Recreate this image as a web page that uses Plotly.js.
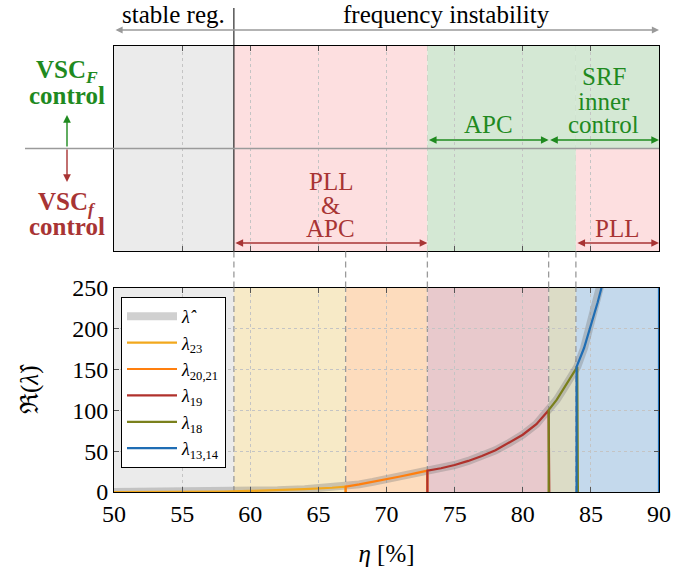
<!DOCTYPE html>
<html><head><meta charset="utf-8">
<script src="https://cdn.plot.ly/plotly-3.0.1.min.js"></script>
<style>
html,body{margin:0;padding:0;background:#fff}
#chart text { font-family: 'Liberation Serif', serif !important; }
</style>
</head><body><div id="chart" style="width:697px;height:572px"></div>
<script>
// ---------------- data ----------------
const etaBounds = [50, 58.8, 67, 73, 81.9, 83.9, 90];
const xTicks = [50, 55, 60, 65, 70, 75, 80, 85, 90];
const yTicks = [0, 50, 100, 150, 200, 250];

const hatEta = [50, 52, 55, 58, 60, 62, 64, 66, 67, 68, 69, 70, 71, 72, 73, 74, 75, 76, 77, 78, 79, 80, 81, 81.9, 82.5, 83, 83.5, 84, 84.5, 85, 85.5, 85.8, 86.2];
const hatVal = [0, 0.1, 0.3, 0.7, 1.3, 2.2, 3.5, 5.2, 6.5, 9.3, 12.3, 15.5, 19, 22.5, 26, 29, 33, 38, 44, 51, 60, 70, 83, 100, 113, 126, 139, 153, 176, 203, 232, 251, 285];

const l23Eta = [50, 55, 58, 60, 62, 64, 66, 67, 67];
const l23Val = [0, 0.1, 0.5, 1.3, 2.2, 3.5, 5.2, 6.5, -5];

const l2021Eta = [67, 67, 68, 69, 70, 71, 72, 73, 73];
const l2021Val = [-5, 6.5, 9.3, 12.3, 15.5, 19, 22.5, 26, -5];

const l19Eta = [73, 73, 74, 75, 76, 77, 78, 79, 80, 81, 81.9, 81.95];
const l19Val = [-5, 26, 29, 33, 38, 44, 51, 60, 70, 83, 100, -5];

const l18Eta = [81.9, 81.9, 82.5, 83, 83.5, 84, 84.05];
const l18Val = [-5, 100, 113, 126, 139, 153, -5];

const l1314Eta = [83.95, 83.95, 84.5, 85, 85.5, 85.8, 86.2, 90, 90];
const l1314Val = [-5, 153, 176, 203, 232, 251, 285, 1200, -5];

const seriesNames = ['<i>λ̂</i>', '<i>λ</i><sub>23</sub>', '<i>λ</i><sub>20,21</sub>', '<i>λ</i><sub>19</sub>', '<i>λ</i><sub>18</sub>', '<i>λ</i><sub>13,14</sub>'];

// ---------------- style ----------------
const FONT = 'Liberation Serif';
const GREEN = '#1f8a1f';
const RED = '#a83434';
const GRAYLINE = '#9a9a9a';
const lineColors = ['rgba(120,120,120,0.35)', '#f2a81d', '#ff7f0e', '#b0312c', '#7a801c', '#1f6db4'];
const lineWidths = [8, 2.2, 2.2, 2.2, 2.2, 2.2];

const H = 572, T = 46, B = 80;
const PH = H - T - B;
const py = px => (H - B - px) / PH;              // pixel row -> paper y
const topLo = py(251), botHi = py(287.5);
const y2 = px => 1 - 2 * (px - 46) / 205;        // pixel row -> top-panel y

const xs = [hatEta, l23Eta, l2021Eta, l19Eta, l18Eta, l1314Eta];
const ys = [hatVal, l23Val, l2021Val, l19Val, l18Val, l1314Val];
const traces = xs.map((x, i) => ({
  x: x, y: ys[i], type: 'scatter', mode: 'lines', name: seriesNames[i],
  xaxis: 'x', yaxis: 'y', line: {color: lineColors[i], width: lineWidths[i]},
  hoverinfo: 'skip'
}));

const b = etaBounds;
const shapes = [];
const topFills = [
  [b[0], b[1], -1, 1, '#ebebeb'],
  [b[1], b[3], -1, 1, '#fddfe0'],
  [b[3], b[5], -1, 1, '#d4e8d4'],
  [b[5], b[6], 0, 1, '#d4e8d4'],
  [b[5], b[6], -1, 0, '#fddfe0']
];
topFills.forEach(r => shapes.push({type: 'rect', xref: 'x2', yref: 'y2', x0: r[0], x1: r[1], y0: r[2], y1: r[3],
  fillcolor: r[4], line: {width: 0}, layer: 'below'}));
const botColors = ['#ebebeb', '#f7eac7', '#fddcbd', '#e8c9cc', '#dcdcc6', '#c4d9ec'];
for (let i = 0; i < 6; i++) {
  shapes.push({type: 'rect', xref: 'x', yref: 'y domain', x0: b[i], x1: b[i + 1], y0: 0, y1: 1,
    fillcolor: botColors[i], line: {width: 0}, layer: 'below'});
}
const dashLine = {color: GRAYLINE, width: 1.3, dash: '6px,4px'};
for (let i = 1; i <= 5; i++) {
  shapes.push({type: 'line', xref: 'x', yref: 'y domain', x0: b[i], x1: b[i], y0: 0, y1: 1, line: dashLine, layer: 'below'});
  shapes.push({type: 'line', xref: 'x', yref: 'paper', x0: b[i], x1: b[i], y0: botHi, y1: topLo, line: dashLine, layer: 'above'});
  if (i >= 2) shapes.push({type: 'line', xref: 'x2', yref: 'y2 domain', x0: b[i], x1: b[i], y0: 0, y1: 1, line: dashLine, layer: 'below'});
}
shapes.push({type: 'line', xref: 'x2', yref: 'paper', x0: b[1], x1: b[1], y0: topLo, y1: py(8), line: {color: '#000', width: 1}, layer: 'above'});
shapes.push({type: 'line', xref: 'paper', yref: 'y2', x0: (25 - 114) / 545, x1: 1, y0: 0, y1: 0, line: {color: GRAYLINE, width: 1.3}, layer: 'above'});

const ann = [];
const txt = (text, xref, x, y, color, size, extra) => Object.assign({text: text, xref: xref, x: x, yref: 'paper', y: y,
  showarrow: false, font: {family: FONT, size: size || 24, color: color || '#000'}, xanchor: 'center', yanchor: 'middle'}, extra || {});
const dblArrow = (x0, x1, yv, color, xref, yref) => ({text: '', xref: xref, x: x1, yref: yref, y: yv, axref: xref, ax: x0,
  ayref: yref, ay: yv, showarrow: true, arrowside: 'end+start', arrowhead: 2, startarrowhead: 2,
  arrowsize: 1.1, startarrowsize: 1.1, arrowwidth: 1.4, arrowcolor: color, standoff: 0, startstandoff: 0});

ann.push(txt('stable reg.', 'x2', (b[0] + b[1]) / 2, py(15), '#000', 25));
ann.push(txt('frequency instability', 'x2', 74.4, py(15), '#000', 25));
ann.push({text: '', xref: 'x2', x: b[6], yref: 'paper', y: py(30), axref: 'x2', ax: b[0], ayref: 'pixel', ay: 0,
  showarrow: true, arrowside: 'end+start', arrowhead: 2, startarrowhead: 2, arrowsize: 1.1, startarrowsize: 1.1,
  arrowwidth: 1.3, arrowcolor: GRAYLINE, standoff: 0, startstandoff: 0});
const lx = (67 - 114) / 545;
ann.push(txt('<b>VSC<sub><i>F</i></sub></b>', 'paper', lx, py(72), GREEN, 25));
ann.push(txt('<b>control</b>', 'paper', lx, py(95), GREEN, 25));
ann.push(txt('<b>VSC<sub><i>f</i></sub></b>', 'paper', lx, py(203), RED, 25));
ann.push(txt('<b>control</b>', 'paper', lx, py(227), RED, 25));
ann.push({text: '', xref: 'paper', x: lx, yref: 'paper', y: py(115), ax: 0, ay: 33, showarrow: true,
  arrowhead: 2, arrowsize: 1.1, arrowwidth: 1.4, arrowcolor: GREEN, standoff: 0});
ann.push({text: '', xref: 'paper', x: lx, yref: 'paper', y: py(182), ax: 0, ay: -34, showarrow: true,
  arrowhead: 2, arrowsize: 1.1, arrowwidth: 1.4, arrowcolor: RED, standoff: 0});
const mid13 = (b[1] + b[3]) / 2, mid34 = (b[3] + b[4]) / 2, mid46 = (b[4] + b[6]) / 2, mid56 = (b[5] + b[6]) / 2;
ann.push(txt('PLL', 'x2', mid13, py(181), RED, 25));
ann.push(txt('&amp;', 'x2', mid13, py(205), RED, 25));
ann.push(txt('APC', 'x2', mid13, py(229), RED, 25));
ann.push(txt('PLL', 'x2', mid56, py(229), RED, 25));
ann.push(txt('APC', 'x2', mid34, py(125), GREEN, 25));
ann.push(txt('SRF', 'x2', mid46, py(77), GREEN, 25));
ann.push(txt('inner', 'x2', mid46, py(101), GREEN, 25));
ann.push(txt('control', 'x2', mid46, py(125), GREEN, 25));
ann.push(dblArrow(b[3], b[4], y2(140), GREEN, 'x2', 'y2'));
ann.push(dblArrow(b[4], b[6], y2(140), GREEN, 'x2', 'y2'));
ann.push(dblArrow(b[1], b[3], y2(243), RED, 'x2', 'y2'));
ann.push(dblArrow(b[5], b[6], y2(243), RED, 'x2', 'y2'));

const axBase = {
  ticks: 'inside', ticklen: 5, tickcolor: '#555', tickwidth: 1, mirror: 'ticks', showline: true,
  linecolor: '#000', linewidth: 1, showgrid: true, gridcolor: '#c4c4c4', griddash: 'dot', gridwidth: 1,
  zeroline: false, tickfont: {family: FONT, size: 24, color: '#000'}
};

const layout = {
  width: 697, height: 572,
  margin: {l: 114, r: 38, t: T, b: B, pad: 0},
  paper_bgcolor: '#fff', plot_bgcolor: 'rgba(0,0,0,0)',
  showlegend: true,
  legend: {x: 7 / 545, y: py(297), xanchor: 'left', yanchor: 'top', bgcolor: '#fff', bordercolor: '#000', borderwidth: 1,
    font: {family: FONT, size: 18, color: '#000'}, tracegroupgap: 0, itemwidth: 50},
  xaxis: Object.assign({}, axBase, {domain: [0, 1], range: [50, 90], anchor: 'y', tickvals: xTicks,
    title: {text: '<i>η</i> [%]', font: {family: FONT, size: 25, color: '#000'}, standoff: 18}}),
  yaxis: Object.assign({}, axBase, {domain: [0, botHi], range: [0, 250], anchor: 'x', tickvals: yTicks,
    title: {text: 'ℜ(<i>λ̂</i>)', font: {family: FONT, size: 25, color: '#000'}, standoff: 26}}),
  xaxis2: Object.assign({}, axBase, {domain: [0, 1], range: [50, 90], anchor: 'y2', tickvals: xTicks, showticklabels: false}),
  yaxis2: {domain: [topLo, 1], range: [-1, 1], anchor: 'x2', showticklabels: false, ticks: '', showgrid: false,
    zeroline: false, showline: true, mirror: true, linecolor: '#000', linewidth: 1},
  shapes: shapes,
  annotations: ann
};

Plotly.newPlot('chart', traces, layout, {displayModeBar: false});
</script>
</body></html>
